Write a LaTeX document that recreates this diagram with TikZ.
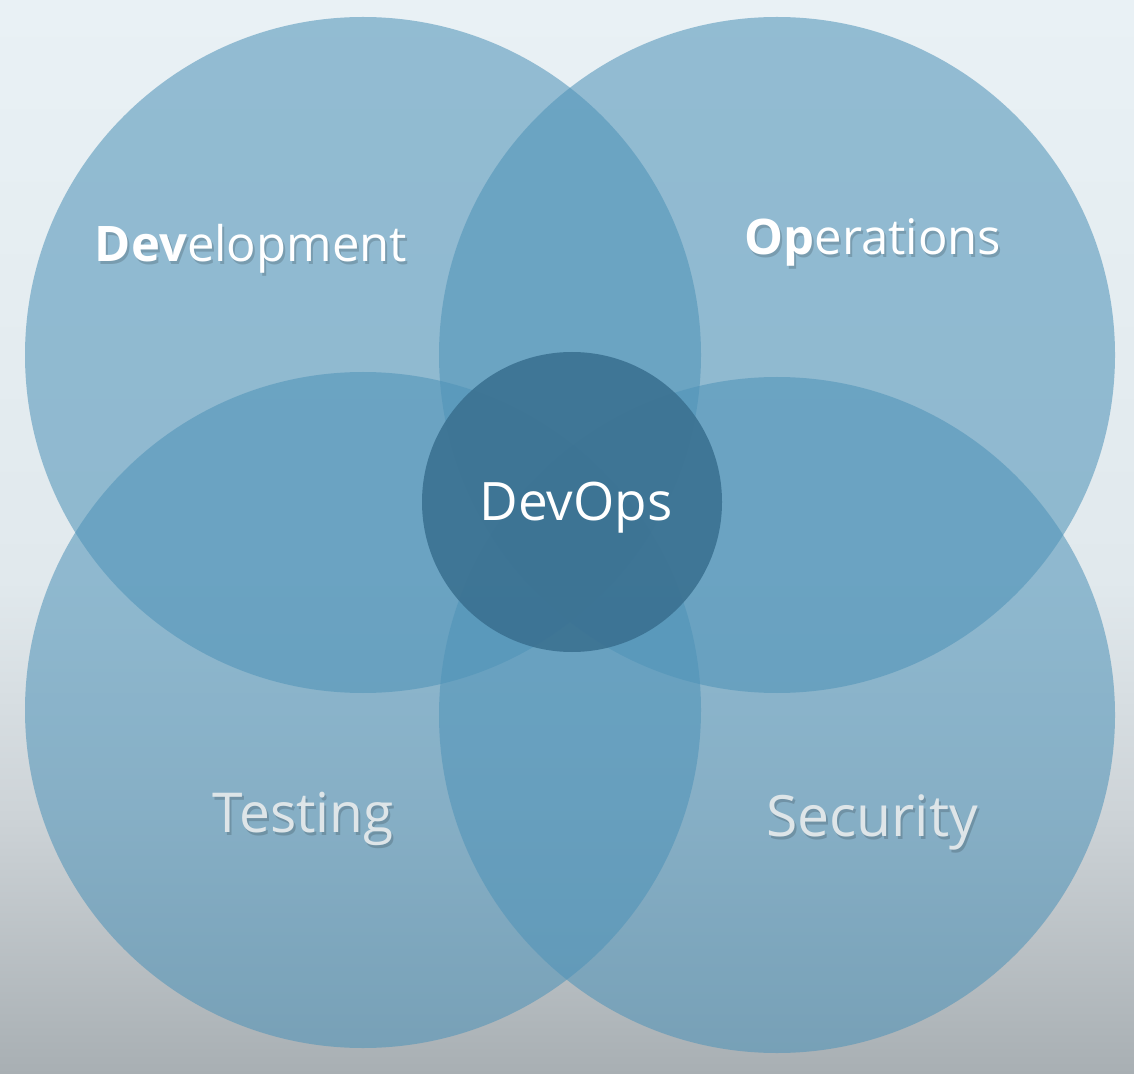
\documentclass[tikz,border=0pt]{standalone}
\usepackage{fontspec}
\setmainfont{Open Sans}
\definecolor{circblue}{HTML}{4F93B8}
\definecolor{coreblue}{HTML}{3A7090}
\definecolor{labelgrey}{HTML}{DEE5E8}
\definecolor{bgtop}{HTML}{E9F1F5}
\definecolor{bgmid}{HTML}{E1E9ED}
\definecolor{bglow}{HTML}{CDD3D7}
\definecolor{bgbot}{HTML}{A8AFB3}
\pgfdeclareverticalshading{bgshade}{100bp}{color(0bp)=(bgbot); color(25bp)=(bgbot); color(37bp)=(bglow); color(48bp)=(bgmid); color(75bp)=(bgtop); color(100bp)=(bgtop)}
\begin{document}
\begin{tikzpicture}[x=0.5pt,y=-0.5pt,
  bigc/.style={circle,fill=circblue,fill opacity=0.56,minimum size=338pt,inner sep=0pt},
  corec/.style={circle,fill=coreblue,fill opacity=0.88,minimum size=150pt,inner sep=0pt},
  lbl/.style={anchor=base,text=white},
  lblgrey/.style={lbl,text=labelgrey},
  shadowlbl/.style={anchor=base,text=black,text opacity=0.16},
  fbig/.style={font=\fontsize{24.5}{28}\selectfont},
  fmid/.style={font=\fontsize{27.5}{30}\selectfont}]
\useasboundingbox (0,0) rectangle (1134,1074);
\shade[shading=bgshade] (0,0) rectangle (1134,1074);
\node[bigc] (dev) at (363,355) {};
\node[bigc] (ops) at (777,355) {};
\node[bigc] (test) at (363,710) {};
\node[bigc] (sec) at (777,715) {};
\node[corec] (core) at (572,502) {};
% shadows
\node[shadowlbl,fbig] at (253,265) {\textbf{Dev}elopment};
\node[shadowlbl,fbig] at (875,258) {\textbf{Op}erations};
\node[shadowlbl,fmid] at (305,835) {Testing};
\node[shadowlbl,font=\fontsize{28.5}{30}\selectfont] at (874,839) {Security};
% labels
\node[lbl,fbig] (devl) at (251,262) {\textbf{Dev}elopment};
\node[lbl,fbig] (opsl) at (873,255) {\textbf{Op}erations};
\node[lblgrey,fmid] (testl) at (303,832) {Testing};
\node[lblgrey,font=\fontsize{28.5}{30}\selectfont] (secl) at (872,836) {Security};
\node[lbl,font=\fontsize{26.5}{30}\selectfont] (corel) at (576,520) {DevOps};
\end{tikzpicture}
\end{document}
